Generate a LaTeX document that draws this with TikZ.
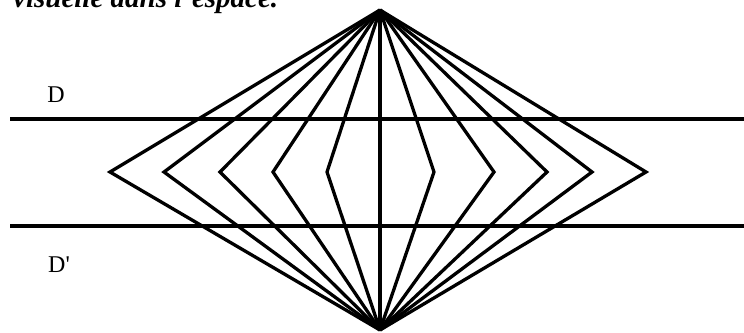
\documentclass[tikz,border=0pt]{standalone}
\usepackage{fontspec}
\setmainfont{Liberation Serif}
\usetikzlibrary{positioning}
\tikzset{
    ray/.style={draw, line width=3.3pt, line join=miter},
    droite/.style={draw, line width=3.3pt},
    lab/.style={font=\fontsize{24}{28}\selectfont, inner sep=0pt},
    titre/.style={font=\fontsize{29}{34}\selectfont\bfseries\itshape, inner sep=0pt, anchor=base west}
}
\begin{document}
\begin{tikzpicture}[x=1pt, y=-1pt]
        % Frame
        \useasboundingbox (0,0) rectangle (744,332);
        \clip (0,0) rectangle (744,332);

        % Caption (cut)
        \node (cap) [titre] at (13,7) {visuelle dans l'espace.};

        % Apexes
        \coordinate (top) at (380,10);
        \coordinate (bot) at (380,330);

        % Lines D and D'
        \coordinate (d_l) at (10,119);
        \coordinate (d_r) at (744,119);
        \coordinate (dp_l) at (10,226);
        \coordinate (dp_r) at (744,226);
        \draw[droite] (d_l) -- (d_r);
        \draw[droite] (dp_l) -- (dp_r);
        \node (lab_d) [lab] at (56,95) {D};
        \node (lab_dp) [lab] at (59,265) {D\textquotesingle};

        % Broken rays
        \foreach \x [count=\i] in {110,164,220,273,327,434,494,547,592,646} {
            \coordinate (m\i) at (\x,172);
            \draw[ray] (top) -- (m\i) -- (bot);
        }

        % Middle ray
        \draw[ray] (top) -- (bot);

    \end{tikzpicture}
\end{document}
